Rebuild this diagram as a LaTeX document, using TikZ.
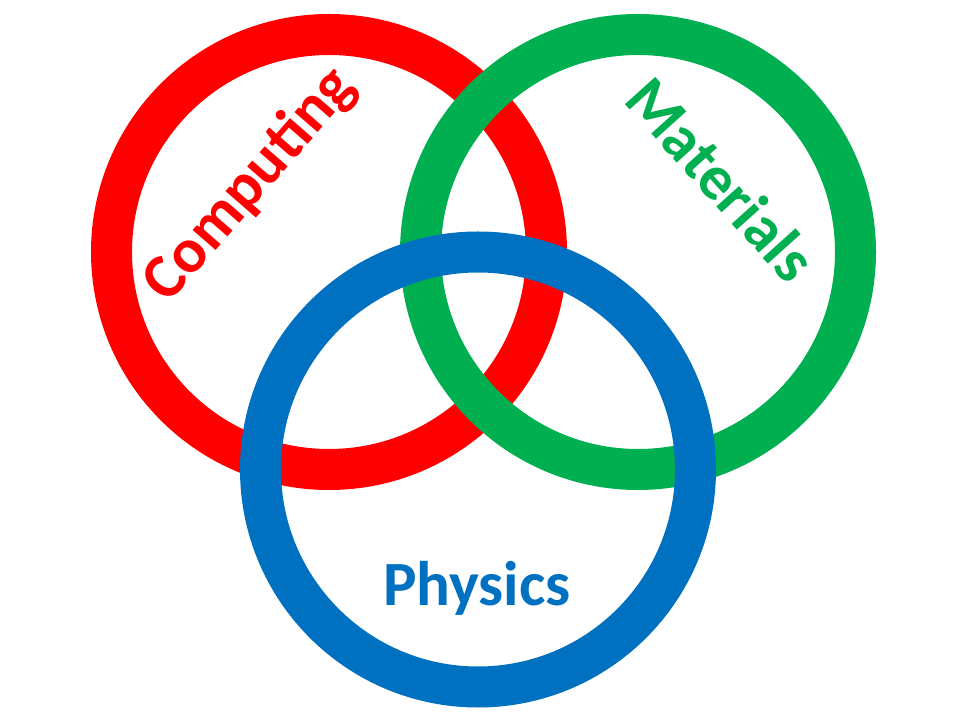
\documentclass[tikz,border=0pt]{standalone}
\usepackage{fontspec}
\setmainfont{Carlito}
\definecolor{ringred}{HTML}{FF0000}
\definecolor{ringgreen}{HTML}{00B050}
\definecolor{ringblue}{HTML}{0070C0}
\tikzset{
  ring/.style={circle, draw=#1, line width=41pt, minimum size=435pt, inner sep=0pt},
  lbl/.style={text=#1, font=\bfseries\fontsize{63}{63}\selectfont, inner sep=0pt, anchor=base}
}
\begin{document}
\begin{tikzpicture}[x=1pt,y=1pt]
\useasboundingbox (0,0) rectangle (960,720);
\node[ring=ringred] (computing) at (329,468) {};
\node[ring=ringgreen] (materials) at (638,468) {};
\node[ring=ringblue] (physics) at (478,250.5) {};
\node[lbl=ringred, rotate=49] (tcomp) at (263,524) {Computing};
\node[lbl=ringgreen, rotate=-48] (tmat) at (705,526) {Materials};
\node[lbl=ringblue] (tphys) at (477,115) {Physics};
\end{tikzpicture}
\end{document}
